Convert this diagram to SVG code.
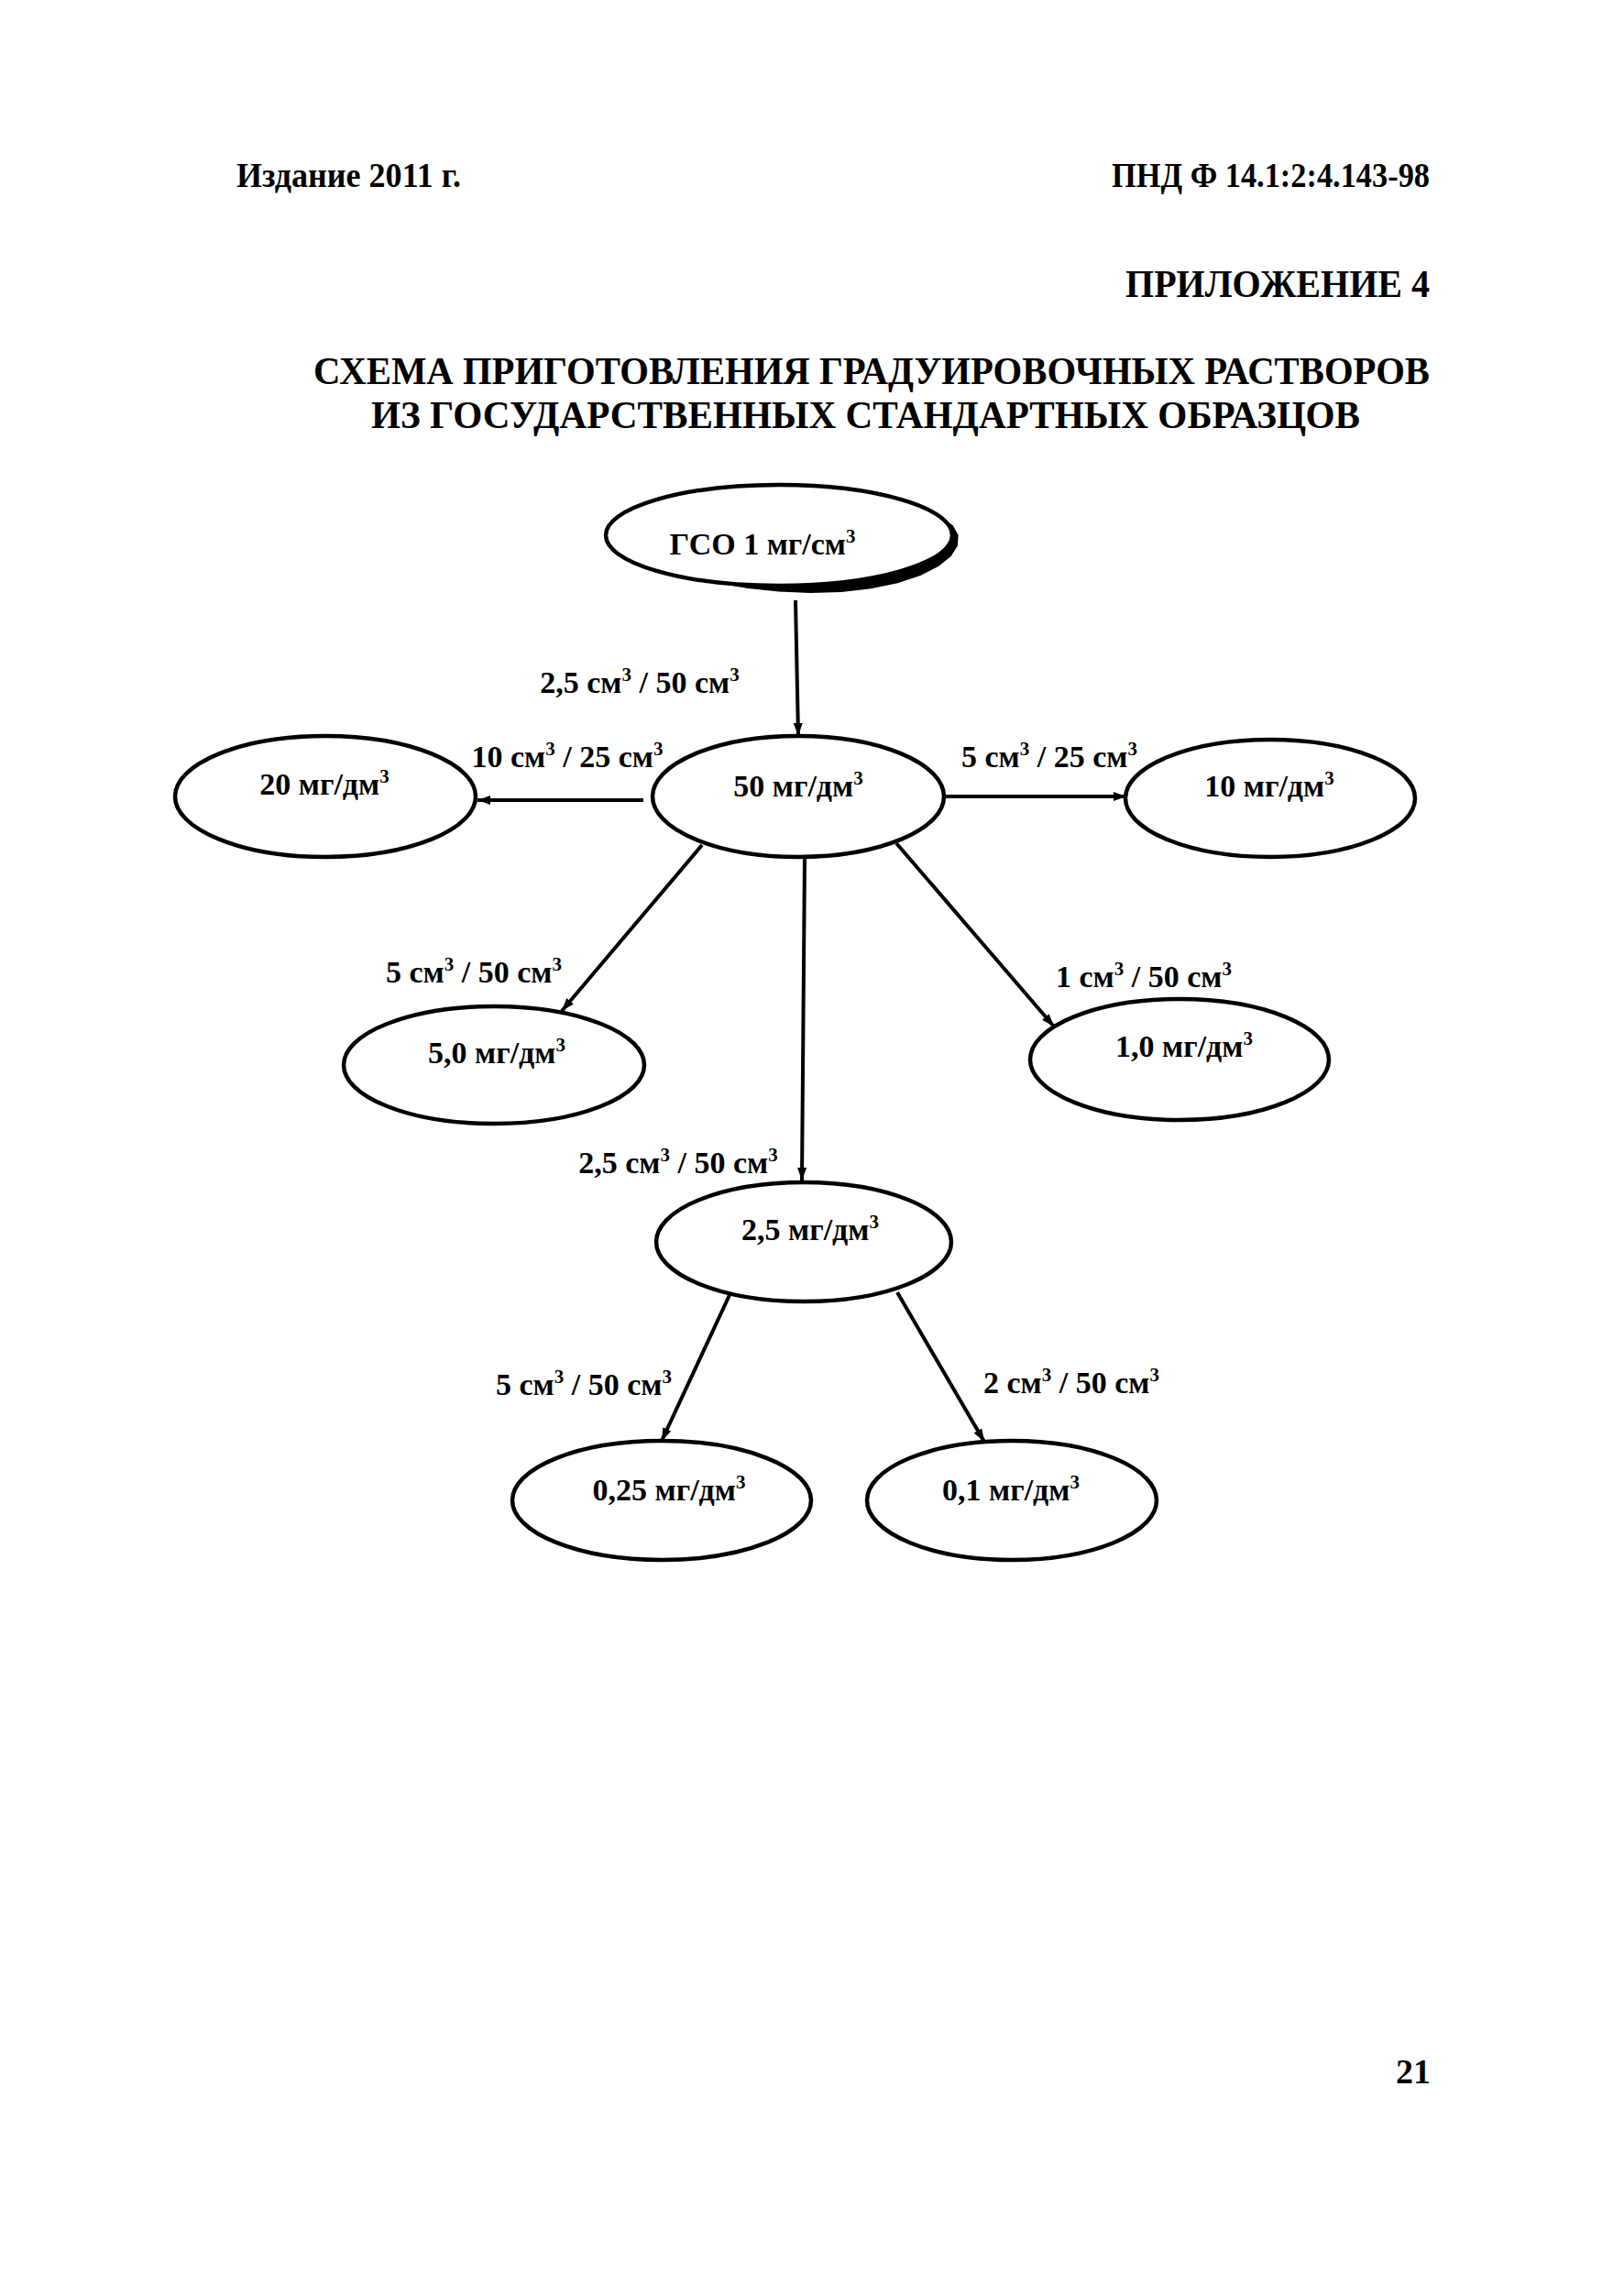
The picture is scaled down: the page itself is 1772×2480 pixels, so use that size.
<svg xmlns="http://www.w3.org/2000/svg" width="1772" height="2480" viewBox="0 0 1772 2480">
<style>
text{font-family:"Liberation Serif","Times New Roman",serif;font-weight:bold;fill:#000}
.hdr{font-size:38px}
.ttl{font-size:42px}
.lbl{font-size:34px;text-anchor:middle}
.nt{font-size:34px;text-anchor:middle}
.sup{font-size:21px}
.node ellipse{fill:#fff;stroke:#000;stroke-width:4.5}
.edge{stroke:#000;stroke-width:4;fill:none;marker-end:url(#ah)}
</style>
<defs>
<marker id="ah" markerUnits="userSpaceOnUse" markerWidth="16" markerHeight="12" refX="14" refY="5" orient="auto">
<path d="M0,0 L14,5 L0,10 z" fill="#000"/>
</marker>
</defs>
<rect width="1772" height="2480" fill="#fff"/>
<g id="header">
<text class="hdr" x="258" y="204" textLength="245" lengthAdjust="spacingAndGlyphs">Издание 2011 г.</text>
<text class="hdr" x="1213" y="204" textLength="347" lengthAdjust="spacingAndGlyphs">ПНД Ф 14.1:2:4.143-98</text>
<text class="ttl" x="1228" y="324" textLength="332" lengthAdjust="spacingAndGlyphs">ПРИЛОЖЕНИЕ 4</text>
<text class="ttl" x="342" y="419" textLength="1218" lengthAdjust="spacingAndGlyphs">СХЕМА ПРИГОТОВЛЕНИЯ ГРАДУИРОВОЧНЫХ РАСТВОРОВ</text>
<text class="ttl" x="405" y="467" textLength="1079" lengthAdjust="spacingAndGlyphs">ИЗ ГОСУДАРСТВЕННЫХ СТАНДАРТНЫХ ОБРАЗЦОВ</text>
</g>
<g id="connectors">
<line class="edge" x1="868" y1="655" x2="871" y2="803"/>
<line class="edge" x1="702" y1="873" x2="521" y2="873"/>
<line class="edge" x1="1030" y1="869" x2="1229" y2="869"/>
<line class="edge" x1="766" y1="922" x2="613" y2="1103"/>
<line class="edge" x1="978" y1="920" x2="1150" y2="1120"/>
<line class="edge" x1="878" y1="935" x2="875" y2="1288"/>
<line class="edge" x1="796" y1="1413" x2="722" y2="1572"/>
<line class="edge" x1="979" y1="1410" x2="1074" y2="1573"/>
<text class="lbl" x="698" y="756">2,5 см<tspan class="sup" dy="-13">3</tspan><tspan dy="13"> / 50 см</tspan><tspan class="sup" dy="-13">3</tspan></text>
<text class="lbl" x="619" y="837">10 см<tspan class="sup" dy="-13">3</tspan><tspan dy="13"> / 25 см</tspan><tspan class="sup" dy="-13">3</tspan></text>
<text class="lbl" x="1145" y="837">5 см<tspan class="sup" dy="-13">3</tspan><tspan dy="13"> / 25 см</tspan><tspan class="sup" dy="-13">3</tspan></text>
<text class="lbl" x="517" y="1072">5 см<tspan class="sup" dy="-13">3</tspan><tspan dy="13"> / 50 см</tspan><tspan class="sup" dy="-13">3</tspan></text>
<text class="lbl" x="1248" y="1077">1 см<tspan class="sup" dy="-13">3</tspan><tspan dy="13"> / 50 см</tspan><tspan class="sup" dy="-13">3</tspan></text>
<text class="lbl" x="740" y="1280">2,5 см<tspan class="sup" dy="-13">3</tspan><tspan dy="13"> / 50 см</tspan><tspan class="sup" dy="-13">3</tspan></text>
<text class="lbl" x="637" y="1522">5 см<tspan class="sup" dy="-13">3</tspan><tspan dy="13"> / 50 см</tspan><tspan class="sup" dy="-13">3</tspan></text>
<text class="lbl" x="1169" y="1520">2 см<tspan class="sup" dy="-13">3</tspan><tspan dy="13"> / 50 см</tspan><tspan class="sup" dy="-13">3</tspan></text>
</g>
<g id="n-gso" class="node">
<path d="M1027.6,565.2 L1039,574 L1044.6,584 L1044,595 L1037,606.2 L1023.4,617.1 L1003.9,627 L979.1,635.2 L950.1,641.3 L918,645 L884.2,646 L850,644.6 L816.7,641 L785.4,635.7 A189 55 0 0 0 1027.6 565.2 Z" fill="#000" stroke="#000" stroke-width="2" stroke-linejoin="round"/>
<ellipse cx="850" cy="584" rx="189" ry="55"/>
<text class="nt" x="832" y="605">ГСО 1 мг/см<tspan class="sup" dy="-13">3</tspan></text>
</g>
<g id="n-50" class="node">
<ellipse cx="871" cy="869" rx="159" ry="66"/>
<text class="nt" x="871" y="869">50 мг/дм<tspan class="sup" dy="-13">3</tspan></text>
</g>
<g id="n-20" class="node">
<ellipse cx="355" cy="869" rx="164" ry="66"/>
<text class="nt" x="354" y="867">20 мг/дм<tspan class="sup" dy="-13">3</tspan></text>
</g>
<g id="n-10" class="node">
<ellipse cx="1386" cy="871" rx="158" ry="64"/>
<text class="nt" x="1385" y="869">10 мг/дм<tspan class="sup" dy="-13">3</tspan></text>
</g>
<g id="n-5" class="node">
<ellipse cx="539" cy="1162" rx="164" ry="64"/>
<text class="nt" x="542" y="1160">5,0 мг/дм<tspan class="sup" dy="-13">3</tspan></text>
</g>
<g id="n-1" class="node">
<ellipse cx="1287" cy="1156" rx="163" ry="66"/>
<text class="nt" x="1292" y="1153">1,0 мг/дм<tspan class="sup" dy="-13">3</tspan></text>
</g>
<g id="n-2-5" class="node">
<ellipse cx="877" cy="1355" rx="161" ry="65"/>
<text class="nt" x="884" y="1353">2,5 мг/дм<tspan class="sup" dy="-13">3</tspan></text>
</g>
<g id="n-0-25" class="node">
<ellipse cx="722" cy="1637" rx="163" ry="65"/>
<text class="nt" x="730" y="1637">0,25 мг/дм<tspan class="sup" dy="-13">3</tspan></text>
</g>
<g id="n-0-1" class="node">
<ellipse cx="1104" cy="1637" rx="158" ry="65"/>
<text class="nt" x="1103" y="1637">0,1 мг/дм<tspan class="sup" dy="-13">3</tspan></text>
</g>
<g id="footer">
<text class="hdr" x="1561" y="2273" style="text-anchor:end">21</text>
</g>
</svg>
